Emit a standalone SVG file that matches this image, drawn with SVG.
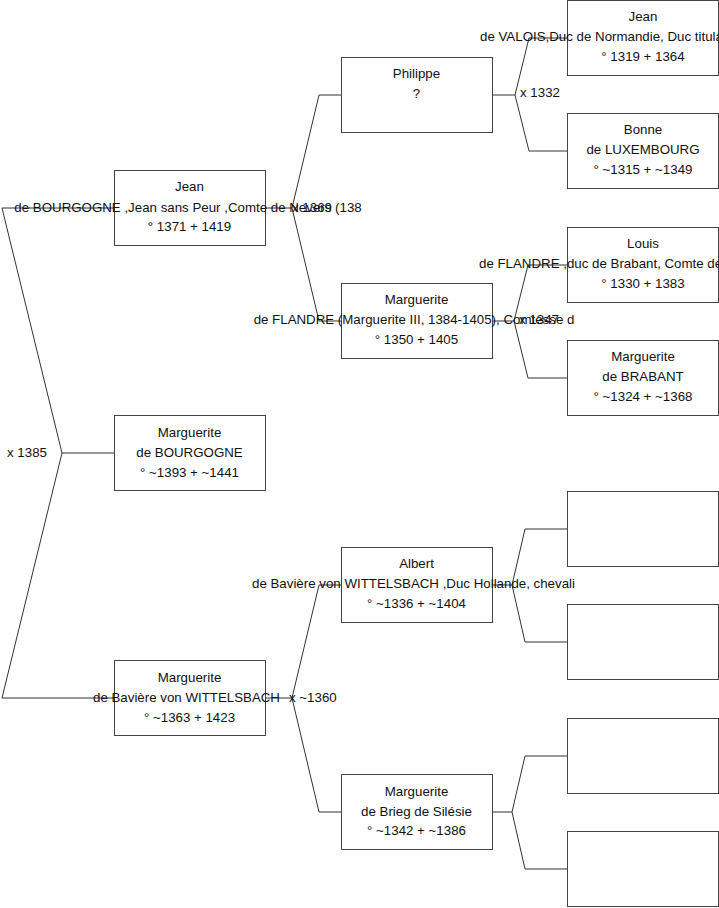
<svg xmlns="http://www.w3.org/2000/svg" width="719" height="908" viewBox="0 0 719 908">
<style>
.box{fill:#fff;stroke:#444;stroke-width:1}
.ln{fill:none;stroke:#333;stroke-width:1}
text{font-family:"Liberation Sans",Arial,sans-serif;font-size:13.3px;fill:#111}
.c{text-anchor:middle}
</style>
<rect width="719" height="908" fill="#fff"/>
<g id="connectors">
<path class="ln" d="M114,208 H2 L62,453 L2,698 H114 M62,453 H114"/>
<path class="ln" d="M265,208 H292 M341,95 H319 L292,208 L319,321 H341"/>
<path class="ln" d="M265,698 H292 M341,585 H319 L292,698 L319,812 H341"/>
<path class="ln" d="M492,95 H515 M567,38 H529 L515,95 L529,151 H567"/>
<path class="ln" d="M492,321 H514 M567,265 H528 L514,321 L528,378 H567"/>
<path class="ln" d="M492,585 H512 M567,529 H525 L512,585 L525,642 H567"/>
<path class="ln" d="M492,812 H512 M567,756 H525 L512,812 L525,869 H567"/>
</g>
<g id="n-jean-bourgogne">
<rect class="box" x="114.5" y="170.5" width="151" height="75"/>
<text class="c" x="189.5" y="191">Jean</text>
<text class="c" x="188" y="212">de BOURGOGNE ,Jean sans Peur ,Comte de Nevers (138</text>
<text class="c" x="189.5" y="231">° 1371 + 1419</text>
</g>
<g id="n-marguerite-bourgogne">
<rect class="box" x="114.5" y="415.5" width="151" height="75"/>
<text class="c" x="189.5" y="437">Marguerite</text>
<text class="c" x="189.5" y="457">de BOURGOGNE</text>
<text class="c" x="189.5" y="477">° ~1393 + ~1441</text>
</g>
<g id="n-marguerite-baviere">
<rect class="box" x="114.5" y="660.5" width="151" height="75"/>
<text class="c" x="189.5" y="682">Marguerite</text>
<text class="c" x="186.5" y="702">de Bavière von WITTELSBACH</text>
<text class="c" x="189.5" y="722">° ~1363 + 1423</text>
</g>
<g id="n-philippe">
<rect class="box" x="341.5" y="57.5" width="151" height="75"/>
<text class="c" x="416.5" y="78">Philippe</text>
<text class="c" x="416.5" y="98">?</text>
</g>
<g id="n-marguerite-flandre">
<rect class="box" x="341.5" y="283.5" width="151" height="75"/>
<text class="c" x="416.5" y="304">Marguerite</text>
<text class="c" x="414" y="324">de FLANDRE (Marguerite III, 1384-1405), Comtesse d</text>
<text class="c" x="416.5" y="344">° 1350 + 1405</text>
</g>
<g id="n-albert">
<rect class="box" x="341.5" y="547.5" width="151" height="75"/>
<text class="c" x="416.5" y="568">Albert</text>
<text class="c" x="413.5" y="588">de Bavière von WITTELSBACH ,Duc Hollande, chevali</text>
<text class="c" x="416.5" y="608">° ~1336 + ~1404</text>
</g>
<g id="n-marguerite-brieg">
<rect class="box" x="341.5" y="774.5" width="151" height="75"/>
<text class="c" x="416.5" y="796">Marguerite</text>
<text class="c" x="416.5" y="816">de Brieg de Silésie</text>
<text class="c" x="416.5" y="835">° ~1342 + ~1386</text>
</g>
<g id="n-jean-valois">
<rect class="box" x="567.5" y="0.5" width="151" height="75"/>
<text class="c" x="643" y="21">Jean</text>
<text x="480" y="41">de VALOIS,Duc de Normandie, Duc titula</text>
<text class="c" x="643" y="61">° 1319 + 1364</text>
</g>
<g id="n-bonne">
<rect class="box" x="567.5" y="113.5" width="151" height="75"/>
<text class="c" x="643" y="134">Bonne</text>
<text class="c" x="643" y="154">de LUXEMBOURG</text>
<text class="c" x="643" y="174">° ~1315 + ~1349</text>
</g>
<g id="n-louis">
<rect class="box" x="567.5" y="227.5" width="151" height="75"/>
<text class="c" x="643" y="248">Louis</text>
<text x="479" y="268">de FLANDRE ,duc de Brabant, Comte de</text>
<text class="c" x="643" y="288">° 1330 + 1383</text>
</g>
<g id="n-marguerite-brabant">
<rect class="box" x="567.5" y="340.5" width="151" height="75"/>
<text class="c" x="643" y="361">Marguerite</text>
<text class="c" x="643" y="381">de BRABANT</text>
<text class="c" x="643" y="401">° ~1324 + ~1368</text>
</g>
<g id="n-empty1"><rect class="box" x="567.5" y="491.5" width="151" height="75"/></g>
<g id="n-empty2"><rect class="box" x="567.5" y="604.5" width="151" height="75"/></g>
<g id="n-empty3"><rect class="box" x="567.5" y="718.5" width="151" height="75"/></g>
<g id="n-empty4"><rect class="box" x="567.5" y="831.5" width="151" height="75"/></g>
<g id="marriages">
<text x="7" y="457">x 1385</text>
<text x="292" y="212">x 1369</text>
<text x="289" y="702">x ~1360</text>
<text x="520" y="97">x 1332</text>
<text x="519" y="324">x 1347</text>
</g>
</svg>
